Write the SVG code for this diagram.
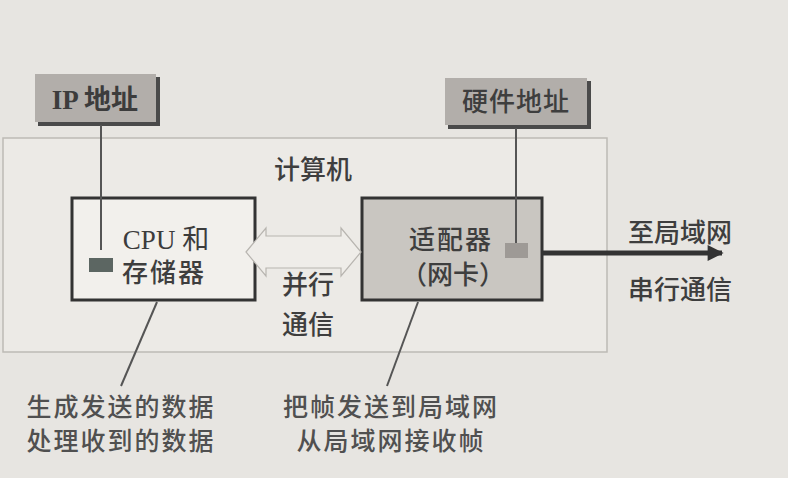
<svg xmlns="http://www.w3.org/2000/svg" width="788" height="478" viewBox="0 0 788 478">
<defs>
<style>
.t{font-family:"Liberation Serif","Noto Sans CJK SC",serif;font-size:27px;fill:#3c3c3c;}
.c{font-family:"Noto Sans CJK SC",sans-serif;font-size:26px;fill:#3e3e3e;font-weight:500;}
.b{font-family:"Noto Sans CJK SC",sans-serif;font-size:25px;fill:#505050;font-weight:500;letter-spacing:2px;}
.ln{stroke:#555;stroke-width:2;fill:none;}
</style>
<marker id="ah" viewBox="0 0 10 10" refX="9" refY="5" markerWidth="4" markerHeight="3.2" orient="auto" markerUnits="strokeWidth">
<path d="M0,0 L10,5 L0,10 z" fill="#333"/>
</marker>
</defs>
<rect width="788" height="478" fill="#e7e5e1"/>
<g id="computer">
<rect x="3" y="138" width="604" height="214" fill="#eceae6" stroke="#bdbab5" stroke-width="1.5"/>
<text class="c" x="313" y="179" text-anchor="middle">计算机</text>
</g>
<g id="ip">
<rect x="38" y="77" width="122" height="49" fill="#4a4a4a"/>
<rect x="35" y="74" width="121" height="48" fill="#b2aeaa"/>
<text class="t" x="95" y="109" text-anchor="middle" font-weight="bold" fill="#404040">IP 地址</text>
</g>
<g id="hw">
<rect x="448" y="81" width="143" height="48" fill="#4a4a4a"/>
<rect x="445" y="78" width="142" height="47" fill="#b2aeaa"/>
<text class="c" x="516" y="111" text-anchor="middle" letter-spacing="1">硬件地址</text>
</g>
<g id="cpu">
<rect x="72" y="198" width="183" height="102" fill="#f2f0ec" stroke="#333" stroke-width="3"/>
<text class="t" x="166" y="249" text-anchor="middle">CPU 和</text>
<text class="c" x="164" y="282" text-anchor="middle" letter-spacing="2">存储器</text>
<rect x="89" y="258" width="24" height="14" fill="#5c6662"/>
</g>
<g id="adapter">
<rect x="362" y="198" width="180" height="102" fill="#c9c6c1" stroke="#333" stroke-width="3"/>
<text class="c" x="451" y="249" text-anchor="middle" letter-spacing="2">适配器</text>
<text class="c" x="453" y="284" text-anchor="middle">（网卡）</text>
<rect x="505" y="243" width="23" height="15" fill="#9e9a96"/>
</g>
<g id="connectors">
<path d="M246,252 L266,228 L266,236 L341,236 L341,228 L361,252 L341,276 L341,268 L266,268 L266,276 Z" fill="#efede9" stroke="#b8b5b0" stroke-width="1.2"/>
<line class="ln" x1="101" y1="125" x2="101" y2="250"/>
<line class="ln" x1="516" y1="128" x2="516" y2="243"/>
<line x1="543" y1="253" x2="722" y2="253" stroke="#333" stroke-width="5" marker-end="url(#ah)"/>
<line class="ln" x1="157" y1="302" x2="121" y2="386"/>
<line class="ln" x1="418" y1="302" x2="387" y2="386"/>
</g>
<g id="labels">
<text class="c" x="308" y="294" text-anchor="middle">并行</text>
<text class="c" x="308" y="334" text-anchor="middle">通信</text>
<text class="c" x="680" y="242" text-anchor="middle">至局域网</text>
<text class="c" x="680" y="299" text-anchor="middle">串行通信</text>
<text class="b" x="121" y="416" text-anchor="middle">生成发送的数据</text>
<text class="b" x="121" y="450" text-anchor="middle">处理收到的数据</text>
<text class="b" x="391" y="416" text-anchor="middle">把帧发送到局域网</text>
<text class="b" x="391" y="450" text-anchor="middle">从局域网接收帧</text>
</g>
</svg>
